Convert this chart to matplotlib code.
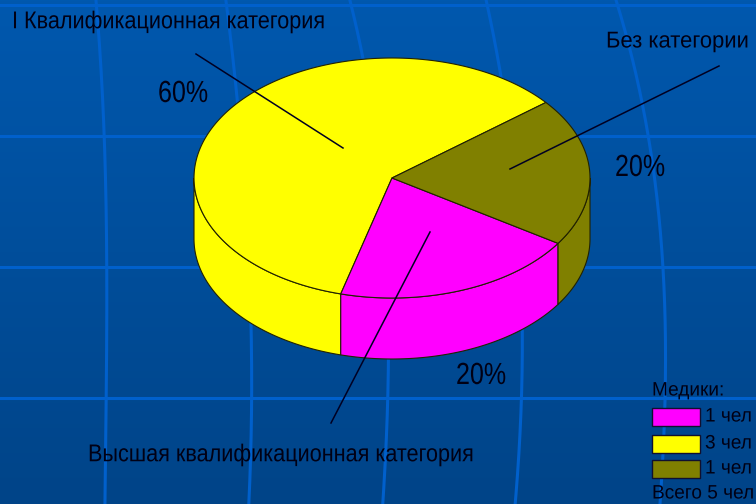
import numpy as np
import matplotlib
matplotlib.use("Agg")
import matplotlib.pyplot as plt
import matplotlib.patheffects as path_effects
from matplotlib.patches import Polygon, Rectangle
from matplotlib.transforms import Affine2D

# Data
categories = ["I Квалификационная категория", "Высшая квалификационная категория", "Без категории"]
people = [3, 1, 1]
percent_labels = ["60%", "20%", "20%"]
colors = ["#FFFF00", "#FF00FF", "#808000"]

legend_title = "Медики:"
legend_rows = ["1 чел", "3 чел", "1 чел"]
legend_colors = ["#FF00FF", "#FFFF00", "#808000"]
legend_total = "Всего 5 чел"

# Pie geometry in pixels
cx, cy = 392, 178
rx, ry = 198, 120
depth = 61
start_angle = 39

plt.rcParams['font.family'] = ['Liberation Sans', 'DejaVu Sans']


# The reference uses a condensed face, so squeeze the glyphs sideways
class Narrow(path_effects.AbstractPathEffect):
    def __init__(self, sx):
        super().__init__()
        self.sx = sx

    def draw_path(self, renderer, gc, tpath, affine, rgbFace=None):
        renderer.draw_path(gc, tpath, Affine2D().scale(self.sx, 1) + affine, rgbFace)


fig = plt.figure(figsize=(7.56, 5.04), dpi=100)
ax = fig.add_axes([0, 0, 1, 1])
ax.set_xlim(0, 756)
ax.set_ylim(504, 0)
ax.axis('off')

# Background gradient
top = np.array([0, 88, 174]) / 255
bottom = np.array([0, 68, 136]) / 255
ramp = np.linspace(0, 1, 256)[:, None, None]
ax.imshow(top + (bottom - top) * ramp, extent=(0, 756, 504, 0), aspect='auto', zorder=0)

# Background grid of the slide
line_color = "#0060CC"
for y in [5, 135.5, 267, 398]:
    ax.plot([0, 756], [y, y], color=line_color, lw=2.2, zorder=1)
curve_y = [0, 135, 267, 398, 504]
for curve_x in ([96, 104, 107, 106, 105],
                [226, 240, 250, 251, 249],
                [350, 375, 388, 387, 383],
                [486, 510, 520, 522, 515],
                [616, 648, 663, 665, 660]):
    yy = np.linspace(0, 504, 200)
    xx = np.polyval(np.polyfit(curve_y, curve_x, 3), yy)
    ax.plot(xx, yy, color=line_color, lw=2.2, zorder=1)


def rim(t1, t2, dy=0):
    t = np.radians(np.linspace(t1, t2, 200))
    return np.column_stack([cx + rx * np.cos(t), cy - ry * np.sin(t) + dy])


# Slice angles from the values
shares = np.array(people) / sum(people) * 360
edges = start_angle + np.concatenate([[0], np.cumsum(shares)])

# Side walls, only the front half of the rim shows
for i in range(len(people)):
    t1 = max(edges[i], 180)
    t2 = min(edges[i + 1], 360)
    if t2 > t1:
        wall = np.vstack([rim(t1, t2), rim(t2, t1, depth)])
        ax.add_patch(Polygon(wall, closed=True, facecolor=colors[i], edgecolor='#222200',
                             lw=0.8, zorder=2))

# Top faces
for i in range(len(people)):
    face = np.vstack([[cx, cy], rim(edges[i], edges[i + 1])])
    ax.add_patch(Polygon(face, closed=True, facecolor=colors[i], edgecolor='#222200',
                         lw=0.8, zorder=3))

# Leader lines
ax.plot([196, 343], [54, 148], color='#000022', lw=1.1, zorder=4)
ax.plot([719, 510], [66, 169], color='#000022', lw=1.1, zorder=4)
ax.plot([331, 430], [423, 232], color='#000022', lw=1.1, zorder=4)

# Labels
txt = dict(color='#000014', zorder=5, va='center', ha='left')
pct_fx = [Narrow(0.82)]
legend_fx = [Narrow(0.98)]
ax.text(12, 22, categories[0], fontsize=17.5, path_effects=[Narrow(0.89)], **txt)
ax.text(606, 41, categories[2], fontsize=16.5, path_effects=[Narrow(0.96)], **txt)
ax.text(88, 455, categories[1], fontsize=17.5, path_effects=[Narrow(0.89)], **txt)
ax.text(158, 94, percent_labels[0], fontsize=22, path_effects=pct_fx, **txt)
ax.text(456, 376, percent_labels[1], fontsize=22, path_effects=pct_fx, **txt)
ax.text(615, 168, percent_labels[2], fontsize=22, path_effects=pct_fx, **txt)

# Legend
ax.text(652, 391, legend_title, fontsize=14, path_effects=legend_fx, **txt)
for i, y in enumerate([408, 435, 460]):
    ax.add_patch(Rectangle((652, y), 48, 18, facecolor=legend_colors[i], edgecolor='#101030',
                           lw=1, zorder=4))
    ax.text(705, y + 9, legend_rows[i], fontsize=14, path_effects=legend_fx, **txt)
ax.text(652, 494, legend_total, fontsize=14, path_effects=legend_fx, **txt)

fig.savefig("out.png", dpi=100)
